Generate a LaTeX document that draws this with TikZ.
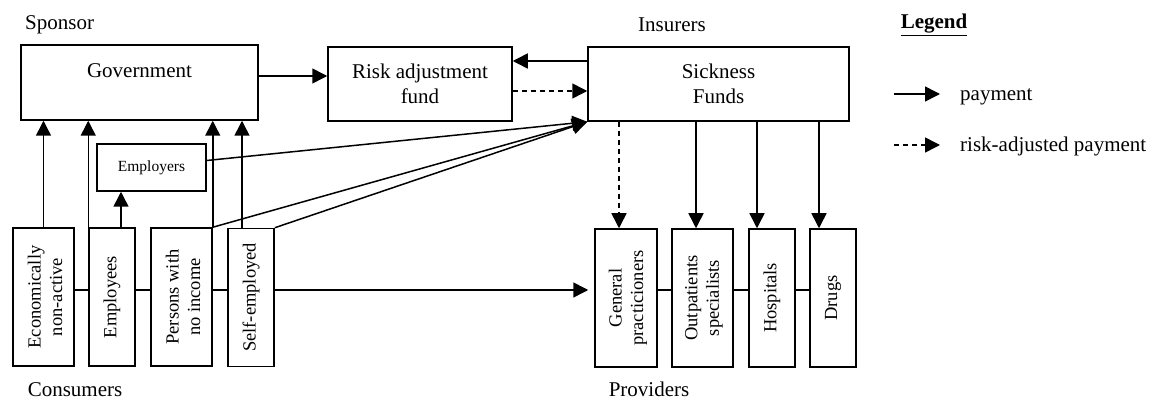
\documentclass[tikz,border=0pt]{standalone}
\usepackage{fontspec}
\setmainfont{Liberation Serif}
\usetikzlibrary{arrows.meta}
\begin{document}
\begin{tikzpicture}[x=1pt,y=-1pt,
  every node/.style={font=\fontsize{21}{25}\selectfont},
  box/.style={draw,line width=1.5pt,inner sep=0pt},
  txt/.style={inner sep=0pt,align=center},
  rot/.style={inner sep=0pt,align=center,rotate=90,font=\fontsize{18.5}{21.5}\selectfont},
  small/.style={inner sep=0pt,font=\fontsize{15.5}{18}\selectfont},
  link/.style={line width=1.5pt},
  pay/.style={line width=1.5pt,-{Triangle[length=15pt,width=15pt]}},
  radj/.style={pay,dash pattern=on 5pt off 4pt}
]
\useasboundingbox (0,0) rectangle (1152,403);

% headings
\node[txt,anchor=west] (sponsor) at (25,25) {Sponsor};
\node[txt] (insurers) at (672,25) {Insurers};
\node[txt] (legend) at (934,25) {\underline{\textbf{Legend}}};
\node[txt] (consumers) at (75,390) {Consumers};
\node[txt,anchor=base] (providers) at (649,396) {Providers};

% top boxes
\node[box,minimum width=237pt,minimum height=75pt] (gov) at (139.5,82.5) {};
\node[txt] (govt) at (139.5,71) {Government};
\node[box,minimum width=184pt,minimum height=74pt] (risk) at (420,84) {};
\node[txt] (riskt) at (420,84) {Risk adjustment\\fund};
\node[box,minimum width=261pt,minimum height=74pt] (sick) at (718.5,84) {};
\node[txt] (sickt) at (718.5,84) {Sickness\\Funds};

% employers
\node[box,minimum width=109pt,minimum height=47pt] (employers) at (151.5,167.5) {};
\node[small] (employerst) at (151.5,167.5) {Employers};

% consumers
\node[box,minimum width=61pt,minimum height=138pt] (econ) at (43.5,297) {};
\node[rot] (econt) at (45,297) {Economically\\non-active};
\node[box,minimum width=46pt,minimum height=138pt] (empl) at (112,297) {};
\node[rot] (emplt) at (112,297) {Employees};
\node[box,minimum width=61pt,minimum height=138pt] (pers) at (181.5,297) {};
\node[rot] (perst) at (183,297) {Persons with\\no income};
\node[box,minimum width=46pt,minimum height=138pt] (self) at (251,297.5) {};
\node[rot] (selft) at (251,297.5) {Self-employed};

% providers
\node[box,minimum width=62pt,minimum height=138pt] (gp) at (626,298) {};
\node[rot] (gpt) at (628,298) {General\\practicioners};
\node[box,minimum width=61pt,minimum height=138pt] (outp) at (702.5,298) {};
\node[rot] (outpt) at (704,298) {Outpatients\\specialists};
\node[box,minimum width=46pt,minimum height=138pt] (hosp) at (772,298) {};
\node[rot] (hospt) at (772,298) {Hospitals};
\node[box,minimum width=46pt,minimum height=138pt] (drugs) at (833,298) {};
\node[rot] (drugst) at (833,298) {Drugs};

% top connectors
\draw[pay] (gov.east |- 0,76) -- (risk.west |- 0,76);
\draw[pay] (sick.west |- 0,61) -- (risk.east |- 0,61);
\draw[radj] (risk.east |- 0,91) -- (sick.west |- 0,91);

% consumers to government
\draw[pay] (econ.north) -- (econ.north |- gov.south);
\draw[pay] (empl.north west) -- (empl.north west |- gov.south);
\draw[pay] (pers.north east) -- (pers.north east |- gov.south);
\draw[pay] ([xshift=-9pt]self.north) -- ([xshift=-9pt]self.north |- gov.south);
\draw[pay] ([xshift=9pt]empl.north) -- ([xshift=9pt]empl.north |- employers.south);

% to sickness funds
\draw[pay] ([yshift=7pt]employers.east) -- (sick.south west);
\draw[pay] (pers.north east) -- (sick.south west);
\draw[pay] (self.north east) -- (sick.south west);

% sickness funds to providers
\draw[radj] (sick.south -| 619,0) -- (gp.north -| 619,0);
\draw[pay] (sick.south -| 696,0) -- (outp.north -| 696,0);
\draw[pay] (sick.south -| 757,0) -- (hosp.north -| 757,0);
\draw[pay] (sick.south -| 819,0) -- (drugs.north -| 819,0);

% horizontal links
\draw[link] (econ.east |- 0,290) -- (empl.west |- 0,290);
\draw[link] (empl.east |- 0,290) -- (pers.west |- 0,290);
\draw[link] (pers.east |- 0,290) -- (self.west |- 0,290);
\draw[pay,shorten >=6pt] (self.east |- 0,290) -- (gp.west |- 0,290);
\draw[link] (gp.east |- 0,290) -- (outp.west |- 0,290);
\draw[link] (outp.east |- 0,290) -- (hosp.west |- 0,290);
\draw[link] (hosp.east |- 0,290) -- (drugs.west |- 0,290);

% legend
\coordinate (l1a) at (894,94);
\coordinate (l1b) at (940,94);
\coordinate (l2a) at (894,145);
\coordinate (l2b) at (940,145);
\draw[pay] (l1a) -- (l1b);
\draw[radj] (l2a) -- (l2b);
\node[txt,anchor=base west] (lpay) at (960,101) {payment};
\node[txt,anchor=base west] (lradj) at (960,152) {risk-adjusted payment};
\end{tikzpicture}
\end{document}
